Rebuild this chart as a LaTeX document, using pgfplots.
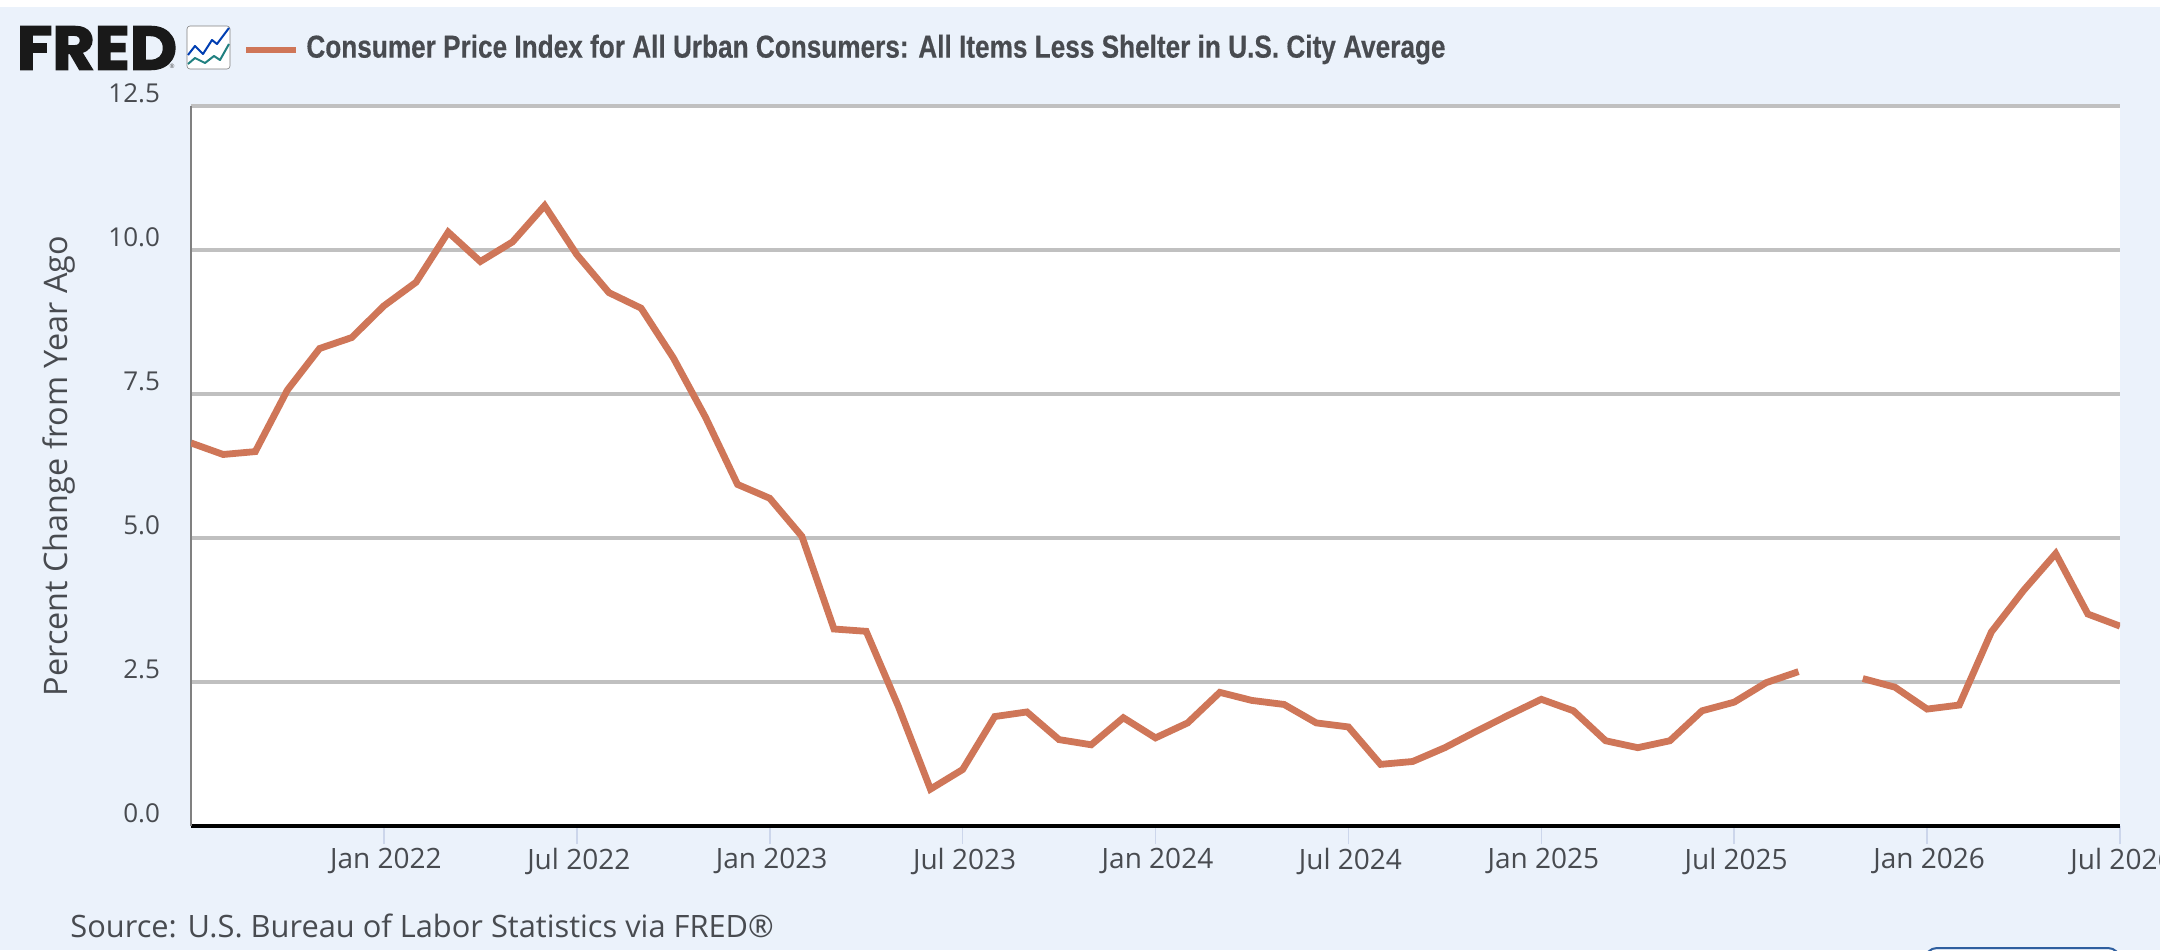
\documentclass[border=0pt]{standalone}
\usepackage{fontspec}
\usepackage{graphicx}
\usepackage{pgfplots}
\usepackage{pgfplotstable}
\pgfplotsset{compat=1.18}
\setmainfont{Open Sans}
\newfontfamily\titlefont{Liberation Sans}[BoldFeatures={FakeBold=0.4}]
\newfontfamily\logofont{Poppins}[BoldFeatures={FakeBold=2.5}]

\definecolor{pagebg}{HTML}{EBF2FB}
\definecolor{linecol}{HTML}{CF7658}
\definecolor{gridcol}{HTML}{C0C0C0}
\definecolor{txtcol}{HTML}{484B50}
\definecolor{tickcol}{HTML}{CCD6EB}
\definecolor{btncol}{HTML}{2F5F9F}

% months since Jul 2021, percent change from year ago
\pgfplotstableread{
m y
0 6.65
1 6.45
2 6.50
3 7.57
4 8.29
5 8.48
6 9.03
7 9.44
8 10.31
9 9.80
10 10.14
11 10.77
12 9.92
13 9.26
14 8.99
15 8.13
16 7.10
17 5.93
18 5.69
19 5.03
20 3.42
21 3.38
22 2.08
23 0.64
24 0.98
25 1.90
26 1.98
27 1.50
28 1.41
29 1.88
30 1.53
31 1.79
32 2.32
33 2.18
34 2.11
35 1.79
36 1.72
37 1.07
38 1.12
39 1.36
40 1.65
41 1.93
42 2.20
43 2.00
44 1.48
45 1.36
46 1.48
47 2.00
48 2.15
49 2.49
50 2.68
51 nan
52 2.56
53 2.41
54 2.03
55 2.10
56 3.37
57 4.09
58 4.73
59 3.68
60 3.47
}\cpidata

\begin{document}
\begin{tikzpicture}
% page: 2160x950 px at 0.5pt per px
\fill[pagebg] (0,0) rectangle (1080pt,475pt);
\fill[white] (0,471.5pt) rectangle (1080pt,475pt);
\path[use as bounding box] (0,0) rectangle (1080pt,475pt);

\begin{axis}[
    at={(95.5pt,62pt)},
    anchor=south west,
    scale only axis,
    width=964.5pt,
    height=360pt,
    xmin=0, xmax=60,
    ymin=0, ymax=12.5,
    axis background/.style={fill=white},
    axis x line=bottom,
    axis y line=left,
    x axis line style={black, line width=2pt, -},
    y axis line style={gray, line width=0.6pt, -},
    xtick={6,12,18,24,30,36,42,48,54,60},
    xticklabels={Jan 2022,Jul 2022,Jan 2023,Jul 2023,Jan 2024,Jul 2024,Jan 2025,Jul 2025,Jan 2026,Jul 2026},
    ytick={0,2.5,5,7.5,10,12.5},
    yticklabel style={/pgf/number format/fixed, /pgf/number format/fixed zerofill, /pgf/number format/precision=1, /pgf/number format/assume math mode=true, font=\fontsize{13}{15}\selectfont, yshift=6.5pt, xshift=-3pt, anchor=east},
    ymajorgrids,
    grid style={gridcol, line width=2pt},
    tick align=outside,
    x tick style={tickcol, line width=0.8pt},
    y tick style={draw=none},
    major tick length=9pt,
    tick label style={text=txtcol},
    xticklabel style={font=\fontsize{14}{16}\selectfont, yshift=1.5pt, xshift=1pt},
    ylabel={Percent Change from Year Ago},
    every axis y label/.style={at={(axis description cs:-0.0685,0.5)}, rotate=90, anchor=center, font=\fontsize{16.2}{18}\selectfont, text=txtcol},
    unbounded coords=jump,
]
\addplot[linecol, line width=3.4pt, line join=miter, no markers] table[x=m, y=y] {\cpidata};
\end{axis}

\begin{scope}[x=0.5pt, y=-0.5pt, yshift=475pt]
% header: logo, icon, legend key, title
\node[inner sep=0, anchor=center, text=black!90] at (97,48) {\resizebox{80pt}{21.5pt}{\logofont\bfseries FRED}};
\node[inner sep=0, text=black!70] at (172,66) {\fontsize{3}{3}\selectfont\textregistered};
\draw[gray, fill=white, rounded corners=1.5pt, line width=0.3pt] (187,26) rectangle (230,69);
\draw[blue!65!cyan!70!black, line width=1pt, line join=round] (188,55) -- (195,46) -- (203,54) -- (212,40) -- (217,44) -- (229,28);
\draw[teal!75!gray, line width=1pt, line join=round] (188,64) -- (195,58) -- (205,63) -- (214,56) -- (220,60) -- (229,44);
\draw[linecol, line width=3.4pt] (246,50) -- (296,50);
\node[inner sep=0, anchor=west, text=txtcol] at (306,49.5) {\resizebox{569.5pt}{11.5pt}{\titlefont\bfseries Consumer Price Index for All Urban Consumers: All Items Less Shelter in U.S. City Average}};
% source line and the button edge at the lower right
\node[inner sep=0, anchor=west, text=txtcol, font=\fontsize{15.4}{17}\selectfont] at (70,926) {Source: U.S. Bureau of Labor Statistics via FRED\textregistered};
\draw[btncol, line width=1pt, rounded corners=6pt] (1925,960) -- (1925,948) -- (2120,948) -- (2120,960);
\end{scope}
\end{tikzpicture}
\end{document}
